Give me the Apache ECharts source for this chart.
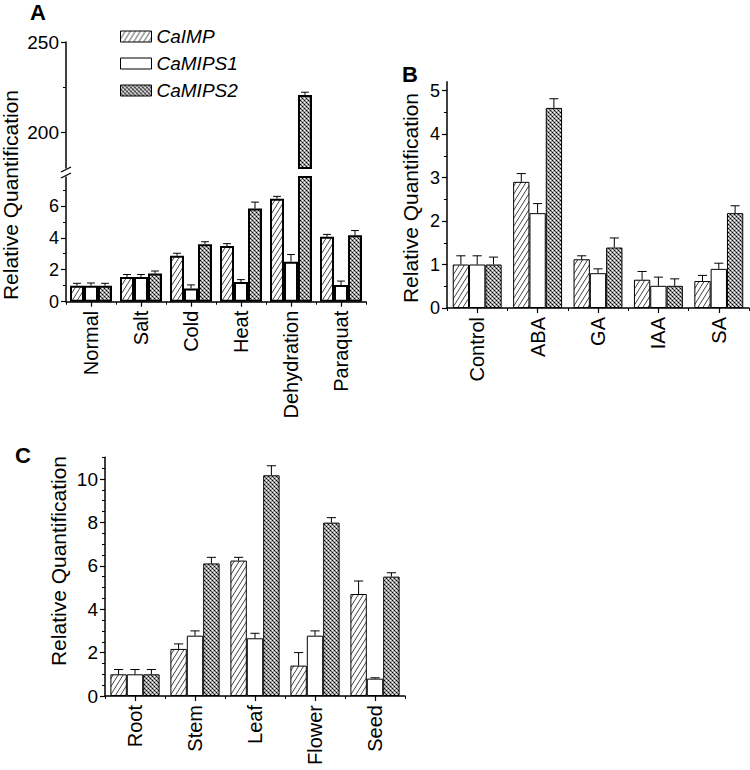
<!DOCTYPE html>
<html><head><meta charset="utf-8">
<script src="https://cdn.jsdelivr.net/npm/echarts@6/dist/echarts.min.js"></script>
<style>html,body{margin:0;padding:0;background:#fff}#c{width:750px;height:770px}</style>
</head><body><div id="c"></div>
<script>
// ---------- data ----------
const seriesNames = ['CaIMP', 'CaMIPS1', 'CaMIPS2'];
// Panel A
const catsA = ['Normal', 'Salt', 'Cold', 'Heat', 'Dehydration', 'Paraquat'];
const aCaIMP   = [1.0, 1.55, 2.88, 3.48, 6.44, 4.06];
const aCaMIPS1 = [1.0, 1.55, 0.83, 1.23, 2.5, 1.04];
const aCaMIPS2 = [1.0, 1.77, 3.6, 5.83, 220.6, 4.15];
const aErrCaIMP   = [0.15, 0.15, 0.15, 0.15, 0.15, 0.15];
const aErrCaMIPS1 = [0.17, 0.15, 0.22, 0.15, 0.45, 0.25];
const aErrCaMIPS2 = [0.15, 0.15, 0.15, 0.4, 1.5, 0.3];
const aTicksLow = [0, 2, 4, 6];
const aMinorLow = [1, 3, 5, 7];
const aTicksHigh = [200, 250];
const aMinorHigh = [225];
// Panel B
const catsB = ['Control', 'ABA', 'GA', 'IAA', 'SA'];
const bCaIMP   = [1.0, 2.9, 1.12, 0.65, 0.62];
const bCaMIPS1 = [1.0, 2.18, 0.8, 0.51, 0.9];
const bCaMIPS2 = [1.0, 4.6, 1.39, 0.51, 2.18];
const bErrCaIMP   = [0.2, 0.19, 0.08, 0.19, 0.13];
const bErrCaMIPS1 = [0.2, 0.22, 0.1, 0.2, 0.13];
const bErrCaMIPS2 = [0.17, 0.21, 0.22, 0.16, 0.17];
const bTicks = [0, 1, 2, 3, 4, 5];
const bMinor = [0.5, 1.5, 2.5, 3.5, 4.5];
// Panel C
const catsC = ['Root', 'Stem', 'Leaf', 'Flower', 'Seed'];
const cCaIMP   = [1.0, 2.17, 6.24, 1.4, 4.7];
const cCaMIPS1 = [1.0, 2.78, 2.66, 2.78, 0.8];
const cCaMIPS2 = [1.0, 6.11, 10.17, 7.99, 5.5];
const cErrCaIMP   = [0.22, 0.23, 0.15, 0.6, 0.6];
const cErrCaMIPS1 = [0.22, 0.22, 0.23, 0.22, 0.04];
const cErrCaMIPS2 = [0.22, 0.28, 0.44, 0.23, 0.18];
const cTicks = [0, 2, 4, 6, 8, 10];
const cMinor = [0.5, 1, 1.5, 2.5, 3, 3.5, 4.5, 5, 5.5, 6.5, 7, 7.5, 8.5, 9, 9.5, 10.5, 11];

// ---------- patterns ----------
function makeHatch(w, h, color, lw) {
  const c = document.createElement('canvas'); c.width = w; c.height = h;
  const g = c.getContext('2d'); g.fillStyle = '#fff'; g.fillRect(0, 0, w, h);
  g.strokeStyle = color; g.lineWidth = lw; g.beginPath();
  g.moveTo(0, h); g.lineTo(w, 0);
  g.moveTo(-w, h); g.lineTo(0, 0);
  g.moveTo(w, h); g.lineTo(2 * w, 0);
  g.stroke(); return c.toDataURL();
}
function makeChecker() {
  const c = document.createElement('canvas'); c.width = c.height = 4;
  const g = c.getContext('2d'); g.fillStyle = '#a4a4a4'; g.fillRect(0, 0, 4, 4);
  g.fillStyle = '#000'; g.fillRect(0, 0, 1, 1); g.fillRect(2, 2, 1, 1);
  g.fillStyle = '#555'; g.fillRect(1, 1, 1, 1); g.fillRect(3, 3, 1, 1);
  g.fillStyle = '#fff'; g.fillRect(2, 0, 1, 1); g.fillRect(0, 2, 1, 1);
  return c.toDataURL();
}
const hatch = { image: makeHatch(5, 8, '#444', 1), repeat: 'repeat' };
const checker = { image: makeChecker(), repeat: 'repeat' };
const fills = [hatch, '#ffffff', checker];

const FONT = 'Liberation Sans, Arial, sans-serif';

// ---------- layout ----------
const gA_up = { left: 66, top: 42, width: 300, height: 126 };
const gA_lo = { left: 66, top: 177, width: 300, height: 124.7 };
const gB = { left: 447, top: 81.8, width: 302, height: 226.2 };
const gC = { left: 105, top: 457.3, width: 300, height: 238.7 };
const A_LOW_MAX = 7.8;

function mainY(grid, min, max, ticks, fs) {
  return { type: 'value', gridIndex: grid, position: 'left', min: min, max: max,
    axisLine: { show: true, lineStyle: { color: '#000', width: 1.5 } },
    axisTick: { show: true, length: 5, customValues: ticks, lineStyle: { color: '#000', width: 1.2 } },
    axisLabel: { show: true, customValues: ticks, fontSize: fs, color: '#000', fontFamily: FONT, margin: 7 },
    splitLine: { show: false } };
}
function minorY(grid, min, max, ticks) {
  return { type: 'value', gridIndex: grid, position: 'left', min: min, max: max,
    axisLine: { show: false },
    axisTick: { show: true, length: 3, customValues: ticks, lineStyle: { color: '#000', width: 1 } },
    axisLabel: { show: false }, splitLine: { show: false } };
}
function mainX(grid, cats) {
  return { type: 'category', gridIndex: grid, position: 'bottom', data: cats,
    axisLine: { show: true, lineStyle: { color: '#000', width: 1.5 } },
    axisTick: { show: true, alignWithLabel: true, length: 5, lineStyle: { color: '#000', width: 1.2 } },
    axisLabel: { rotate: 90, fontSize: 20, color: '#000', fontFamily: FONT, margin: 9, interval: 0 },
    splitLine: { show: false } };
}
function boundX(grid, cats) {
  return { type: 'category', gridIndex: grid, position: 'bottom', data: cats,
    axisLine: { show: false },
    axisTick: { show: true, alignWithLabel: false, length: 3, interval: 0, lineStyle: { color: '#000', width: 1 } },
    axisLabel: { show: false }, splitLine: { show: false } };
}

function barSeries(name, data, xi, yi, k, gap, bw) {
  return { type: 'bar', name: name, data: data, xAxisIndex: xi, yAxisIndex: yi,
    barGap: '0%', barCategoryGap: gap, clip: true, silent: true,
    itemStyle: { color: fills[k], borderColor: '#000', borderWidth: bw } };
}
function errSeries(vals, errs, k, xi, yi, gapFrac, keep, lw) {
  const data = vals.map((v, i) => [i, v, errs[i], k]).filter(d => keep(d[1]));
  return { type: 'custom', xAxisIndex: xi, yAxisIndex: yi, data: data, clip: true, silent: true, z: 3,
    encode: { x: 0, y: 1 },
    renderItem: function (params, api) {
      const ci = api.value(0), v = api.value(1), e = api.value(2), kk = api.value(3);
      const band = api.size([1, 0])[0];
      const w = band * (1 - gapFrac) / 3;
      const p = api.coord([ci, v]); const t = api.coord([ci, v + e]);
      const x = p[0] + (kk - 1) * w;
      const cap = w * 0.28;
      return { type: 'group', children: [
        { type: 'line', shape: { x1: x, y1: p[1], x2: x, y2: t[1] }, style: { stroke: '#000', lineWidth: lw } },
        { type: 'line', shape: { x1: x - cap, y1: t[1], x2: x + cap, y2: t[1] }, style: { stroke: '#000', lineWidth: lw } }
      ] };
    } };
}

const series = [];
const aVals = [aCaIMP, aCaMIPS1, aCaMIPS2], aErrs = [aErrCaIMP, aErrCaMIPS1, aErrCaMIPS2];
const bVals = [bCaIMP, bCaMIPS1, bCaMIPS2], bErrs = [bErrCaIMP, bErrCaMIPS1, bErrCaMIPS2];
const cVals = [cCaIMP, cCaMIPS1, cCaMIPS2], cErrs = [cErrCaIMP, cErrCaMIPS1, cErrCaMIPS2];
const all = () => true;
for (let k = 0; k < 3; k++) {
  series.push(barSeries(seriesNames[k], aVals[k], 1, 2, k, '16%', 2));
  series.push(barSeries(seriesNames[k], aVals[k].map(v => v > A_LOW_MAX ? v : '-'), 0, 0, k, '16%', 2));
  series.push(barSeries(seriesNames[k], bVals[k], 3, 4, k, '19%', 1));
  series.push(barSeries(seriesNames[k], cVals[k], 5, 6, k, '18%', 1));
}
for (let k = 0; k < 3; k++) {
  series.push(errSeries(aVals[k], aErrs[k], k, 1, 2, 0.16, v => v <= A_LOW_MAX, 1));
  series.push(errSeries(aVals[k], aErrs[k], k, 0, 0, 0.16, v => v > A_LOW_MAX, 1));
  series.push(errSeries(bVals[k], bErrs[k], k, 3, 4, 0.19, all, 1));
  series.push(errSeries(cVals[k], cErrs[k], k, 5, 6, 0.18, all, 1));
}

function vText(txt, x, y) {
  return { type: 'text', x: x, y: y, rotation: Math.PI / 2,
    style: { text: txt, fontSize: 21, fontFamily: FONT, fill: '#000', align: 'center', verticalAlign: 'middle' } };
}
function letter(txt, x, y) {
  return { type: 'text', x: x, y: y,
    style: { text: txt, fontSize: 22, fontWeight: 'bold', fontFamily: FONT, fill: '#000', align: 'center', verticalAlign: 'middle' } };
}
const ax = gA_up.left, brkTop = gA_up.top + gA_up.height, brkBot = gA_lo.top;

const option = {
  animation: false,
  backgroundColor: '#fff',
  grid: [
    Object.assign({}, gA_up), Object.assign({}, gA_lo), Object.assign({}, gB), Object.assign({}, gC)
  ],
  xAxis: [
    { type: 'category', gridIndex: 0, data: catsA, show: false },
    mainX(1, catsA), boundX(1, catsA),
    mainX(2, catsB), boundX(2, catsB),
    mainX(3, catsC), boundX(3, catsC)
  ],
  yAxis: [
    mainY(0, 180, 250, aTicksHigh, 19), minorY(0, 180, 250, aMinorHigh),
    mainY(1, 0, A_LOW_MAX, aTicksLow, 18), minorY(1, 0, A_LOW_MAX, aMinorLow),
    mainY(2, 0, 5.2, bTicks, 18), minorY(2, 0, 5.2, bMinor),
    mainY(3, 0, 11, cTicks, 19), minorY(3, 0, 11, cMinor)
  ],
  legend: {
    data: seriesNames, orient: 'vertical', left: 115, top: 21, itemWidth: 31, itemHeight: 11, itemGap: 6,
    icon: 'rect', selectedMode: false,
    itemStyle: { borderColor: '#000', borderWidth: 1 },
    textStyle: { fontSize: 19, fontStyle: 'italic', color: '#000', fontFamily: FONT, lineHeight: 21 }
  },
  graphic: [
    letter('A', 38, 12), letter('B', 410, 74), letter('C', 23, 455),
    vText('Relative Quantification', 10, 195),
    vText('Relative Quantification', 410, 198),
    vText('Relative Quantification', 58, 561),
    { type: 'rect', shape: { x: ax - 6, y: brkTop + 1, width: 12, height: brkBot - brkTop - 2 }, style: { fill: '#fff' }, z: 100 },
    { type: 'line', shape: { x1: ax - 5, y1: brkTop + 4, x2: ax + 5, y2: brkTop - 1 }, style: { stroke: '#000', lineWidth: 1.3 }, z: 101 },
    { type: 'line', shape: { x1: ax - 5, y1: brkBot + 1, x2: ax + 5, y2: brkBot - 4 }, style: { stroke: '#000', lineWidth: 1.3 }, z: 101 }
  ],
  series: series
};
const chart = echarts.init(document.getElementById('c'), null, { renderer: 'svg' });
chart.setOption(option);
</script>
</body></html>
